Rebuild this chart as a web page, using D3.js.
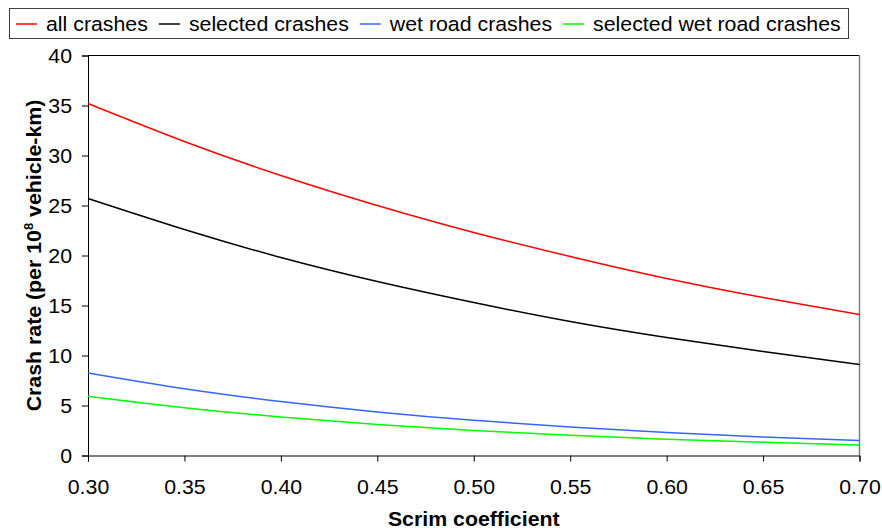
<!DOCTYPE html>
<html>
<head>
<meta charset="utf-8">
<script src="https://cdn.jsdelivr.net/npm/d3@7"></script>
<style>
  html, body { margin: 0; padding: 0; background: #fff; }
  svg { display: block; }
  text { font-family: "Liberation Sans", Arial, sans-serif; fill: #000; }
</style>
</head>
<body>
<svg id="chart" width="882" height="532"></svg>
<script>
// ---- data ----
const scrim = [0.30, 0.35, 0.40, 0.45, 0.50, 0.55, 0.60, 0.65, 0.70];
const allCrashes         = [35.2, 31.4, 28.0, 25.0, 22.3, 19.9, 17.7, 15.8, 14.1];
const selectedCrashes    = [25.7, 22.6, 19.8, 17.4, 15.3, 13.4, 11.8, 10.4, 9.1];
const wetRoadCrashes     = [8.26, 6.68, 5.40, 4.36, 3.52, 2.85, 2.30, 1.86, 1.50];
const selectedWetCrashes = [5.93, 4.78, 3.86, 3.11, 2.51, 2.02, 1.63, 1.32, 1.06];
const seriesNames  = ["all crashes", "selected crashes", "wet road crashes", "selected wet road crashes"];
const seriesColors = ["#ff0000", "#000000", "#3366ff", "#00ff00"];
const xTickValues = [0.30, 0.35, 0.40, 0.45, 0.50, 0.55, 0.60, 0.65, 0.70];
const yTickValues = [0, 5, 10, 15, 20, 25, 30, 35, 40];
const xTitle = "Scrim coefficient";

const seriesValues = [allCrashes, selectedCrashes, wetRoadCrashes, selectedWetCrashes];

// ---- layout ----
const FS = 20.5, SX = 1.04;
const svg = d3.select("#chart");
const pLeft = 88, pRight = 859.5, pTop = 55.5, pBottom = 455.5;

const x = d3.scaleLinear().domain([0.30, 0.70]).range([pLeft, pRight]);
const y = d3.scaleLinear().domain([0, 40]).range([pBottom, pTop]);

// plot frame (top black, right grey)
svg.append("line").attr("x1", pLeft).attr("x2", pRight).attr("y1", pTop).attr("y2", pTop)
  .attr("stroke", "#000").attr("stroke-width", 1);
svg.append("line").attr("x1", pRight).attr("x2", pRight).attr("y1", pTop).attr("y2", pBottom)
  .attr("stroke", "#808080").attr("stroke-width", 1.5);

// x axis
const xAxis = svg.append("g").attr("transform", `translate(0,${pBottom})`)
  .call(d3.axisBottom(x).tickValues(xTickValues).tickFormat(d3.format(".2f"))
        .tickSizeOuter(0).tickSize(6).tickPadding(18));
xAxis.select(".domain").attr("stroke", "#000");
xAxis.selectAll(".tick line").attr("stroke", "#000");
xAxis.selectAll(".tick text").attr("font-size", FS).attr("font-family", null)
  .attr("transform", `scale(${SX},1)`);

// y axis
const yAxis = svg.append("g").attr("transform", `translate(${pLeft},0)`)
  .call(d3.axisLeft(y).tickValues(yTickValues).tickFormat(d3.format("d"))
        .tickSizeOuter(0).tickSize(6).tickPadding(10));
yAxis.select(".domain").attr("stroke", "#000");
yAxis.selectAll(".tick line").attr("stroke", "#000");
yAxis.selectAll(".tick text").attr("font-size", FS).attr("font-family", null)
  .attr("x", -16 / SX).attr("transform", `scale(${SX},1)`);

// lines
const line = d3.line().x((d, i) => x(scrim[i])).y(d => y(d)).curve(d3.curveNatural);
svg.append("g").selectAll("path").data(seriesValues).join("path")
  .attr("d", d => line(d))
  .attr("fill", "none")
  .attr("stroke", (d, i) => seriesColors[i])
  .attr("stroke-width", 1.5);

// x title
svg.append("text")
  .attr("transform", `translate(${(pLeft + pRight) / 2},526) scale(${SX},1)`)
  .attr("text-anchor", "middle").attr("font-weight", "bold").attr("font-size", FS)
  .text(xTitle);

// y title with superscript
const yt = svg.append("text")
  .attr("transform", `translate(41,${(pTop + pBottom) / 2}) rotate(-90) scale(${SX},1)`)
  .attr("text-anchor", "middle").attr("font-weight", "bold").attr("font-size", FS);
yt.append("tspan").text("Crash rate (per 10");
yt.append("tspan").attr("font-size", 12.5).attr("dy", -8).text("8");
yt.append("tspan").attr("dy", 8).text(" vehicle-km)");

// legend
const lg = svg.append("g");
lg.append("rect").attr("x", 9.5).attr("y", 8.5).attr("width", 839).attr("height", 30)
  .attr("fill", "#fff").attr("stroke", "#404040").attr("stroke-width", 1);
let cx = 16;
seriesNames.forEach((name, i) => {
  lg.append("line").attr("x1", cx).attr("x2", cx + 21).attr("y1", 24).attr("y2", 24)
    .attr("stroke", seriesColors[i]).attr("stroke-width", 1.5);
  const tx = cx + 30;
  const t = lg.append("text")
    .attr("transform", `translate(${tx},31) scale(${SX},1)`)
    .attr("font-size", FS).text(name);
  const w = t.node().getComputedTextLength() * SX;
  cx = tx + w + 11;
});
</script>
</body>
</html>
